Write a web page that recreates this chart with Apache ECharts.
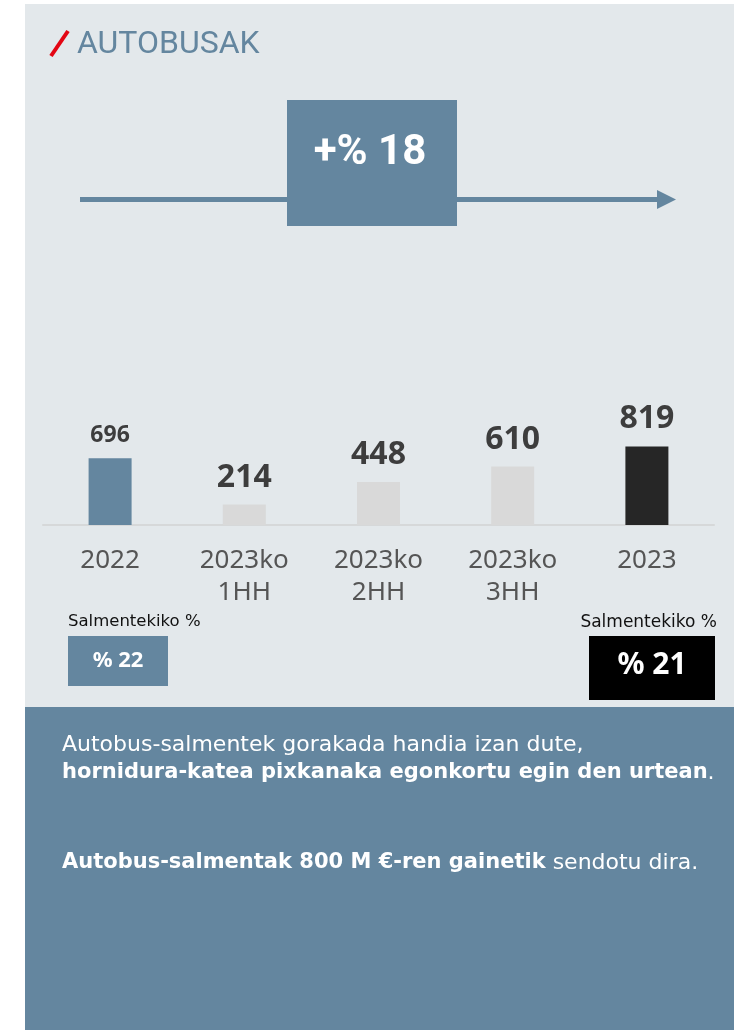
<!DOCTYPE html>
<html>
<head>
<meta charset="utf-8">
<style>
  html, body { margin: 0; padding: 0; background: #ffffff; }
  #chart { width: 742px; height: 1030px; }
</style>
<script src="https://cdn.jsdelivr.net/npm/echarts@6/dist/echarts.min.js"></script>
</head>
<body>
<div id="chart"></div>
<script>
// ---- data ----
const categories = ['2022', '2023ko\n1HH', '2023ko\n2HH', '2023ko\n3HH', '2023'];
const values = [696, 214, 448, 610, 819];
const barColors = ['#64869f', '#d9d9d9', '#d9d9d9', '#d9d9d9', '#262626'];
const labelSizes = [23, 32, 32, 32, 32];
const title = 'AUTOBUSAK';
const growthLabel = '+% 18';
const shareCaption = 'Salmentekiko %';
const share2022 = '% 22';
const share2023 = '% 21';

const BLUE = '#64869f';
const chart = echarts.init(document.getElementById('chart'), null, { renderer: 'canvas' });

const bodyRich = {
  r: { fill: '#ffffff', fontSize: 22, fontFamily: 'DejaVu Sans', lineHeight: 28 },
  b: { fill: '#ffffff', fontSize: 21, fontFamily: 'DejaVu Sans', fontWeight: 'bold', lineHeight: 28 }
};

const option = {
  backgroundColor: '#ffffff',
  animation: false,
  grid: { left: 43, right: 28, top: 429, bottom: 505, containLabel: false },
  xAxis: {
    type: 'category',
    data: categories,
    axisLine: { show: true, lineStyle: { color: '#d6d8d9', width: 2 } },
    axisTick: { show: false },
    axisLabel: {
      color: '#555555', fontSize: 26, lineHeight: 32, margin: 20,
      fontFamily: 'Noto Sans', interval: 0
    }
  },
  yAxis: {
    type: 'value', min: 0, max: 1000, show: false,
    splitLine: { show: false }
  },
  series: [{
    type: 'bar',
    barWidth: 43,
    data: values.map((v, i) => ({
      value: v,
      itemStyle: { color: barColors[i] },
      label: { fontSize: labelSizes[i] }
    })),
    label: {
      show: true, position: 'top', distance: 11,
      color: '#3d3d3d', fontWeight: 'bold', fontFamily: 'Noto Sans'
    },
    z: 10
  }],
  graphic: [
    // panels
    { type: 'rect', shape: { x: 25, y: 4, width: 709, height: 703 }, style: { fill: '#e3e8eb' }, z: -10, silent: true },
    { type: 'rect', shape: { x: 25, y: 707, width: 709, height: 323 }, style: { fill: BLUE }, z: -10, silent: true },
    // title
    { type: 'line', shape: { x1: 51, y1: 56, x2: 68, y2: 31 }, style: { stroke: '#e30613', lineWidth: 4 }, z: 5 },
    { type: 'text', x: 77, y: 45, style: { text: title, fill: BLUE, font: '32px Roboto', textVerticalAlign: 'middle' }, z: 5 },
    // arrow
    { type: 'line', shape: { x1: 80, y1: 199.5, x2: 660, y2: 199.5 }, style: { stroke: BLUE, lineWidth: 5 }, z: 4 },
    { type: 'polygon', shape: { points: [[657, 190], [676, 199.5], [657, 209]] }, style: { fill: BLUE }, z: 4 },
    { type: 'rect', shape: { x: 287, y: 100, width: 170, height: 126 }, style: { fill: BLUE }, z: 5 },
    { type: 'text', x: 370, y: 153, style: { text: growthLabel, fill: '#ffffff', font: 'bold 42px Roboto', textAlign: 'center', textVerticalAlign: 'middle' }, z: 6 },
    // share boxes
    { type: 'text', x: 68, y: 622, style: { text: shareCaption, fill: '#111111', font: '16.5px "DejaVu Sans"', textVerticalAlign: 'middle' }, z: 5 },
    { type: 'rect', shape: { x: 68, y: 636, width: 100, height: 50 }, style: { fill: BLUE }, z: 5 },
    { type: 'text', x: 118, y: 661, style: { text: share2022, fill: '#ffffff', font: 'bold 22px "Noto Sans"', textAlign: 'center', textVerticalAlign: 'middle' }, z: 6 },
    { type: 'text', x: 717, y: 623, style: { text: shareCaption, fill: '#111111', font: '17px "DejaVu Sans"', textAlign: 'right', textVerticalAlign: 'middle' }, z: 5 },
    { type: 'rect', shape: { x: 589, y: 636, width: 126, height: 64 }, style: { fill: '#000000' }, z: 5 },
    { type: 'text', x: 652, y: 665, style: { text: share2023, fill: '#ffffff', font: 'bold 30px "Noto Sans"', textAlign: 'center', textVerticalAlign: 'middle' }, z: 6 },
    // bottom text
    {
      type: 'text', x: 62, y: 731, z: 6,
      style: {
        text: '{r|Autobus-salmentek gorakada handia izan dute,}\n{b|hornidura-katea pixkanaka egonkortu egin den urtean}{r|.}',
        rich: bodyRich
      }
    },
    {
      type: 'text', x: 62, y: 849, z: 6,
      style: {
        text: '{b|Autobus-salmentak 800 M €-ren gainetik}{r| sendotu dira.}',
        rich: bodyRich
      }
    }
  ]
};
chart.setOption(option);
</script>
</body>
</html>
